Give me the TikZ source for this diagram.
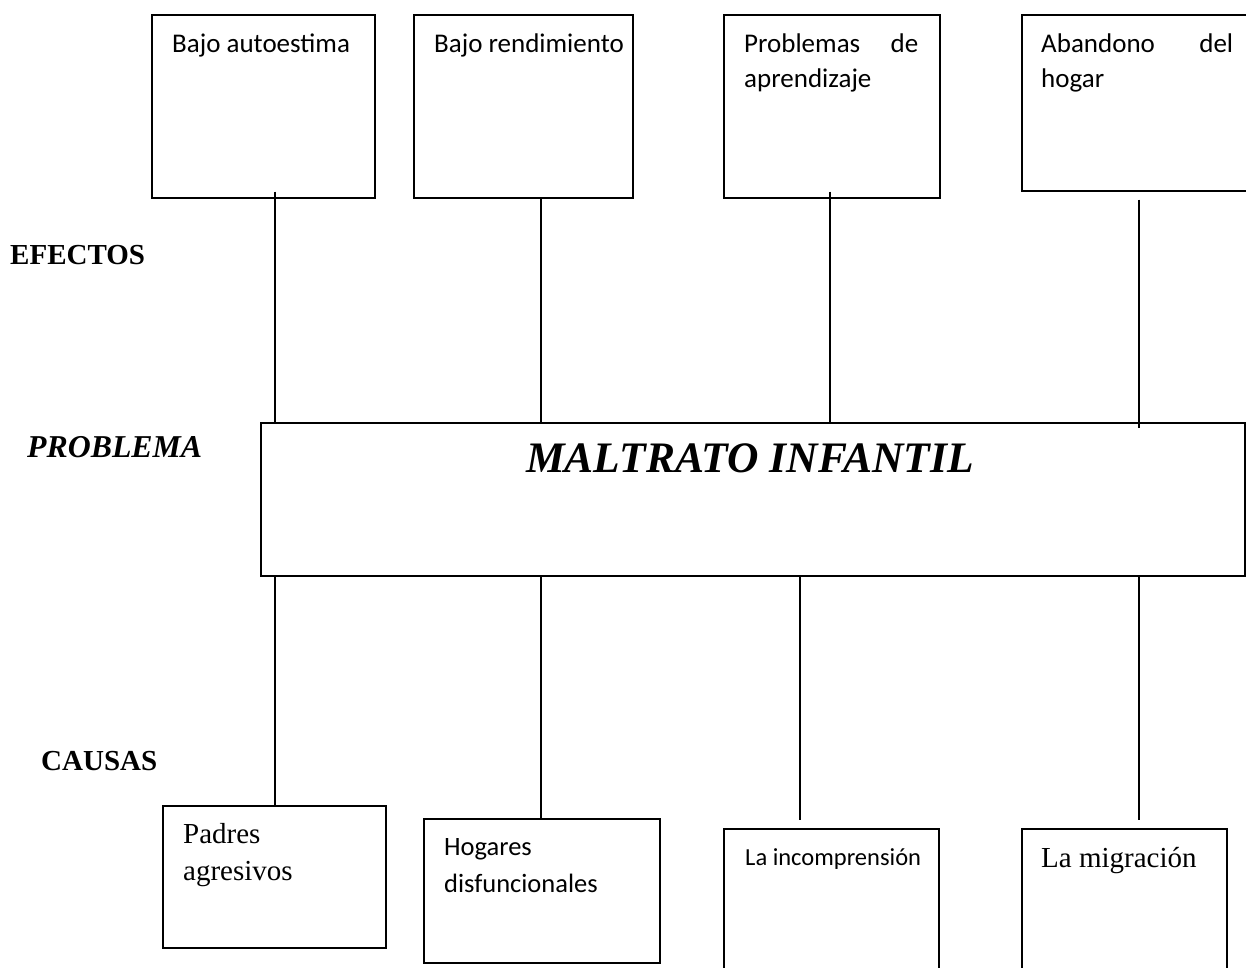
\documentclass[tikz,border=0pt]{standalone}
\usepackage{fontspec}
\setmainfont{Liberation Serif}
\newfontfamily\calfont{Carlito}
\begin{document}
\begin{tikzpicture}[x=1pt,y=-1pt,
  box/.style={draw,line width=1.5pt,rectangle,inner sep=0pt,anchor=north west},
  conn/.style={line width=1.5pt},
  caltext/.style={anchor=base west,inner sep=0pt,align=left,font=\calfont\fontsize{27}{35}\selectfont},
  timtext/.style={anchor=base west,inner sep=0pt,align=left,font=\rmfamily\fontsize{29}{37}\selectfont},
  side/.style={anchor=base west,inner sep=0pt,font=\rmfamily\bfseries\fontsize{29}{34}\selectfont}]
\clip (0,0) rectangle (1246,967);
\fill[white] (0,0) rectangle (1246,967);
% effect boxes
\node[box,minimum width=223pt,minimum height=183pt] (e1) at (151,14) {};
\node[box,minimum width=219pt,minimum height=183pt] (e2) at (413,14) {};
\node[box,minimum width=216pt,minimum height=183pt] (e3) at (723,14) {};
\node[box,minimum width=240pt,minimum height=176pt] (e4) at (1021,14) {};
\node[caltext] (t1) at (172,52) {Bajo autoestima};
\node[caltext] (t2) at (434,52) {Bajo rendimiento};
\node[caltext,text width=174pt] (t3) at (744,52) {Problemas\hfill de\\aprendizaje};
\node[caltext,text width=192pt] (t4) at (1041,52) {Abandono\hfill del\\hogar};
% problem box
\node[box,minimum width=984pt,minimum height=153pt] (m) at (260,422) {};
\node[anchor=base,inner sep=0pt,font=\rmfamily\bfseries\itshape\fontsize{43.5}{48}\selectfont] (mt) at (750,472) {MALTRATO INFANTIL};
% side labels
\node[side] (ef) at (10,264) {EFECTOS};
\node[side,font=\rmfamily\bfseries\itshape\fontsize{31.8}{34}\selectfont] (pr) at (27,457) {PROBLEMA};
\node[side] (ca) at (41,770) {CAUSAS};
% cause boxes
\node[box,minimum width=223pt,minimum height=142pt] (b1) at (162,805) {};
\node[box,minimum width=236pt,minimum height=144pt] (b2) at (423,818) {};
\node[box,minimum width=215pt,minimum height=160pt] (b3) at (723,828) {};
\node[box,minimum width=205pt,minimum height=160pt] (b4) at (1021,828) {};
\node[timtext,text width=180pt] (u1) at (183,843) {Padres\\agresivos};
\node[caltext,text width=200pt,font=\calfont\fontsize{26.5}{37}\selectfont] (u2) at (444,855) {Hogares\\disfuncionales};
\node[caltext,font=\calfont\fontsize{24.5}{35}\selectfont] (u3) at (745,865) {La incomprensión};
\node[timtext] (u4) at (1041,867) {La migración};
% connector x positions
\coordinate (x1) at (275,0);
\coordinate (x2) at (541,0);
\coordinate (x3) at (830,0);
\coordinate (x4) at (1139,0);
\coordinate (y3) at (800,0);
% top connectors
\draw[conn] ([yshift=7pt]e1.south -| x1) -- (m.north -| x1);
\draw[conn] (e2.south -| x2) -- (m.north -| x2);
\draw[conn] ([yshift=7pt]e3.south -| x3) -- (m.north -| x3);
\draw[conn] ([yshift=-8pt]e4.south -| x4) -- ([yshift=-6pt]m.north -| x4);
% bottom connectors
\draw[conn] (m.south -| x1) -- (b1.north -| x1);
\draw[conn] (m.south -| x2) -- (b2.north -| x2);
\draw[conn] (m.south -| y3) -- ([yshift=8pt]b3.north -| y3);
\draw[conn] (m.south -| x4) -- ([yshift=8pt]b4.north -| x4);
\end{tikzpicture}
\end{document}
